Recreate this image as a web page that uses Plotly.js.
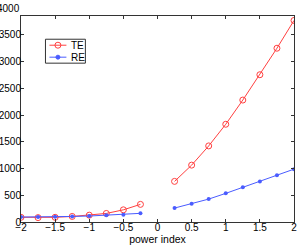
<!DOCTYPE html>
<html>
<head>
<meta charset="utf-8">
<script src="https://cdn.plot.ly/plotly-3.0.1.min.js"></script>
<style>html,body{margin:0;padding:0;background:#fff}#chart{width:300px;height:246px}</style>
</head>
<body>
<div id="chart"></div>
<script>
const xLeft = [-2, -1.75, -1.5, -1.25, -1, -0.75, -0.5, -0.25];
const xRight = [0.25, 0.5, 0.75, 1, 1.25, 1.5, 1.75, 2];
const teLeft = [88, 82, 88, 104, 128, 160, 228, 330];
const teRight = [760, 1064, 1424, 1829, 2282, 2756, 3252, 3772];
const reLeft = [93, 93, 99, 104, 112, 125, 137, 162];
const reRight = [261, 341, 429, 536, 648, 760, 877, 989];
const yTicks = [0, 500, 1000, 1500, 2000, 2500, 3000, 3500, 4000];
const xTicks = [-2, -1.5, -1, -0.5, 0, 0.5, 1, 1.5, 2];
const xTickText = ['\u22122', '\u22121.5', '\u22121', '\u22120.5', '0', '0.5', '1', '1.5', '2'];
const seriesNames = ['TE', 'RE'];
const yTop = 3855;

const teColor = '#ff4040';
const reColor = '#4a5cff';
const colors = [teColor, reColor];

// plot-area geometry (pixels)
const W = 300, H = 246;
const M = {l: 20.5, r: 6, t: 15.7, b: 23.7};
const pw = W - M.l - M.r, ph = H - M.t - M.b;
const px2x = p => (p - M.l) / pw;
const px2y = p => (H - M.b - p) / ph;

const traces = [
  {x: xLeft, y: teLeft, mode: 'lines+markers',
   line: {color: teColor, width: 1}, marker: {symbol: 'circle-open', size: 6, color: teColor, line: {width: 1}}},
  {x: xRight, y: teRight, mode: 'lines+markers',
   line: {color: teColor, width: 1}, marker: {symbol: 'circle-open', size: 6, color: teColor, line: {width: 1}}},
  {x: xLeft, y: reLeft, mode: 'lines+markers',
   line: {color: reColor, width: 1}, marker: {symbol: 'circle', size: 4, color: reColor}},
  {x: xRight, y: reRight, mode: 'lines+markers',
   line: {color: reColor, width: 1}, marker: {symbol: 'circle', size: 4, color: reColor}}
];

// custom compact legend (MATLAB style)
const legBox = {x0: 45, x1: 85, y0: 39, y1: 63};
const rowY = [45, 57];
const shapes = [{type: 'rect', xref: 'paper', yref: 'paper', x0: px2x(legBox.x0), x1: px2x(legBox.x1),
                 y0: px2y(legBox.y1), y1: px2y(legBox.y0), line: {color: '#333', width: 1}, fillcolor: '#fff', layer: 'above'}];
const annotations = [];
seriesNames.forEach((nm, i) => {
  const yy = px2y(rowY[i]);
  shapes.push({type: 'line', xref: 'paper', yref: 'paper', x0: px2x(49), x1: px2x(66), y0: yy, y1: yy,
               line: {color: colors[i], width: 1}, layer: 'above'});
  const r = i === 0 ? 3 : 2;
  shapes.push({type: 'circle', xref: 'paper', yref: 'paper', xsizemode: 'pixel', ysizemode: 'pixel',
               xanchor: px2x(57.5), yanchor: yy, x0: -r, x1: r, y0: -r, y1: r,
               line: {color: colors[i], width: 1}, fillcolor: i === 0 ? 'rgba(0,0,0,0)' : colors[i], layer: 'above'});
  annotations.push({text: nm, xref: 'paper', yref: 'paper', x: px2x(68.5), y: yy, xanchor: 'left', yanchor: 'middle',
                    showarrow: false, font: {size: 10}});
});
annotations.push({text: String(yTicks[yTicks.length - 1]), xref: 'paper', yref: 'paper', x: 0,
                  y: yTicks[yTicks.length - 1] / yTop, xanchor: 'right', yanchor: 'middle',
                  showarrow: false, xshift: 1, font: {size: 10}});

const shownY = yTicks.filter(v => v <= yTop);
const layout = {
  width: W, height: H,
  margin: {l: M.l, r: M.r, t: M.t, b: M.b, pad: 0},
  paper_bgcolor: '#fff', plot_bgcolor: '#fff',
  font: {family: 'Liberation Sans, Arial, sans-serif', size: 10, color: '#000'},
  showlegend: false,
  xaxis: {range: [-2, 2], tickvals: xTicks, ticktext: xTickText, ticks: 'inside', ticklen: 3,
          tickcolor: '#333', showline: true, linecolor: '#333', linewidth: 1, mirror: 'ticks',
          showgrid: false, zeroline: false, ticklabelstandoff: -4,
          title: {text: 'power index', font: {size: 10.5}, standoff: 0}},
  yaxis: {range: [0, yTop], tickvals: shownY, ticktext: shownY.map(String), ticks: 'inside', ticklen: 3,
          tickcolor: '#333', showline: true, linecolor: '#333', linewidth: 1, mirror: 'ticks',
          showgrid: false, zeroline: false, ticklabelstandoff: -3},
  shapes: shapes,
  annotations: annotations
};
Plotly.newPlot('chart', traces, layout, {staticPlot: true, displayModeBar: false});
</script>
</body>
</html>
